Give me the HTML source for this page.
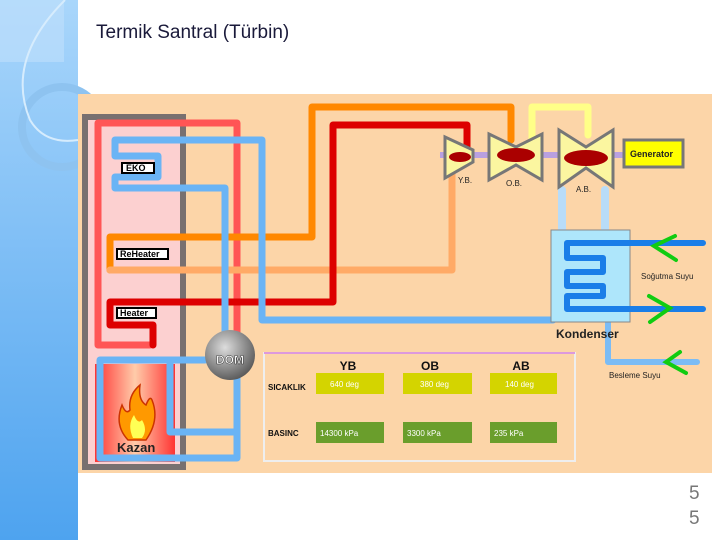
<!DOCTYPE html>
<html><head><meta charset="utf-8"><style>
body{margin:0;width:720px;height:540px;overflow:hidden;background:#fff;font-family:"Liberation Sans",sans-serif}
</style></head><body>
<svg width="720" height="540" viewBox="0 0 720 540" xmlns="http://www.w3.org/2000/svg" font-family="Liberation Sans, sans-serif">
<defs>
<linearGradient id="lb" x1="0" y1="0" x2="0" y2="1"><stop offset="0" stop-color="#a9d6fb"/><stop offset="1" stop-color="#4ea3ef"/></linearGradient>
<radialGradient id="dom" cx="0.4" cy="0.35" r="0.7"><stop offset="0" stop-color="#ddd"/><stop offset="1" stop-color="#555"/></radialGradient>
<linearGradient id="kz" x1="0" y1="0" x2="1" y2="0"><stop offset="0" stop-color="#f33"/><stop offset="0.5" stop-color="#fca"/><stop offset="1" stop-color="#f33"/></linearGradient>
</defs>
<rect x="0" y="0" width="78" height="540" fill="url(#lb)"/>
<rect x="0" y="0" width="64" height="62" fill="#bfe0fc" opacity="0.6"/>
<circle cx="62" cy="127" r="40" fill="none" stroke="#8ec3f0" stroke-width="8"/>
<path d="M65 0 Q5 60 30 120 Q45 145 78 140" fill="none" stroke="#d6ecfd" stroke-width="2"/>
<text x="96" y="38" font-size="19" fill="#1a1a3a">Termik Santral (Türbin)</text>
<text x="689" y="499" font-size="19" fill="#777">5</text>
<text x="689" y="524" font-size="19" fill="#777">5</text>

<rect x="78" y="94" width="634" height="379" fill="#fcd5a8"/>
<rect x="88" y="118" width="94" height="347" fill="#fcd0d0"/>
<rect x="85" y="117" width="98" height="350" fill="none" stroke="#787070" stroke-width="6"/>
<rect x="95" y="364" width="80" height="98" fill="url(#kz)"/>
<g fill="none" stroke-linejoin="round" stroke-linecap="round">
<path d="M150 345 H98 V123 H237 V345" stroke="#f55" stroke-width="7"/>
<path d="M110 270 V237 H312 V107 H511 V140" stroke="#f80" stroke-width="7"/>
<path d="M110 270 H452 V170" stroke="#fa6" stroke-width="7"/>
<path d="M153 345 V325 H110 V302 H333 V125 H467 V148" stroke="#d00" stroke-width="7"/>
<path d="M532 140 V107 H588 V135" stroke="#ff8" stroke-width="7"/>
<path d="M225 335 V188 H115 V177 H158 V156 H115 V140 H262 V320 H553" stroke="#6ab4f5" stroke-width="7"/>
<path d="M562 190 V232 M605 190 V232" stroke="#b8dcf8" stroke-width="8"/>
<path d="M608 322 V362 H697" stroke="#7bbcf5" stroke-width="6"/>
<path d="M205 360 H100 V458 H237 V375 M170 360 V432 H237" stroke="#6ab4f5" stroke-width="7"/>
</g>
<path d="M128 440 Q114 425 122 405 Q126 415 130 410 Q128 395 140 385 Q138 400 146 405 Q150 395 152 400 Q160 420 146 440 Z" fill="#f90" stroke="#c30" stroke-width="1.5"/>
<path d="M133 438 Q127 425 134 415 Q138 425 142 420 Q148 430 142 438Z" fill="#ff5"/>
<text x="117" y="452" font-size="13" font-weight="bold" fill="#222">Kazan</text>
<circle cx="230" cy="355" r="25" fill="url(#dom)"/>
<text x="230" y="364" font-size="12" font-weight="bold" fill="#fff" text-anchor="middle" stroke="#333" stroke-width="0.5">DOM</text>
<g font-size="9" font-weight="bold">
<rect x="122" y="163" width="32" height="10" fill="#fff" stroke="#000" stroke-width="2"/><text x="126" y="171">EKO</text>
<rect x="117" y="249" width="51" height="10" fill="#fff" stroke="#000" stroke-width="2"/><text x="120" y="257">ReHeater</text>
<rect x="117" y="308" width="39" height="10" fill="#fff" stroke="#000" stroke-width="2"/><text x="120" y="316">Heater</text>
</g>
<rect x="264" y="353" width="311" height="108" fill="#fcd5a8" stroke="#eee" stroke-width="2"/>
<line x1="264" y1="353" x2="575" y2="353" stroke="#c4c" stroke-width="1"/>
<g font-size="12" font-weight="bold" fill="#111" text-anchor="middle">
<text x="348" y="370">YB</text><text x="430" y="370">OB</text><text x="521" y="370">AB</text></g>
<g font-size="8" font-weight="bold" fill="#111"><text x="268" y="390">SICAKLIK</text><text x="268" y="436">BASINC</text></g>
<g fill="#d4d400"><rect x="316" y="373" width="68" height="21"/><rect x="403" y="373" width="69" height="21"/><rect x="490" y="373" width="67" height="21"/></g>
<g fill="#6a9e2c"><rect x="316" y="422" width="68" height="21"/><rect x="403" y="422" width="69" height="21"/><rect x="490" y="422" width="67" height="21"/></g>
<g font-size="8" fill="#fff"><text x="330" y="387">640 deg</text><text x="420" y="387">380 deg</text><text x="505" y="387">140 deg</text>
<text x="320" y="436">14300 kPa</text><text x="407" y="436">3300 kPa</text><text x="494" y="436">235 kPa</text></g>
<line x1="440" y1="155" x2="630" y2="155" stroke="#b9a0e0" stroke-width="6"/>
<g fill="#fbf6a0" stroke="#777" stroke-width="3">
<path d="M445 137 L473 150 V162 L445 178 Z"/>
<path d="M489 134 L516 147 L542 134 V180 L516 165 L489 180 Z"/>
<path d="M559 130 L586 147 L613 130 V187 L586 168 L559 187 Z"/>
<rect x="624" y="140" width="59" height="27" fill="#ff0"/>
</g>
<g fill="#a00"><ellipse cx="460" cy="157" rx="11" ry="5"/><ellipse cx="516" cy="155" rx="19" ry="7"/><ellipse cx="586" cy="158" rx="22" ry="8"/></g>
<text x="630" y="157" font-size="9" font-weight="bold" fill="#222">Generator</text>
<g font-size="8" fill="#222"><text x="458" y="183">Y.B.</text><text x="506" y="186">O.B.</text><text x="576" y="192">A.B.</text></g>
<rect x="551" y="230" width="79" height="92" fill="#aee6fb" stroke="#888" stroke-width="1"/>
<path d="M703 243 H567 V258 H603 V272 H567 V286 H603 V296 H567 V309 H703" fill="none" stroke="#1a7ee8" stroke-width="6" stroke-linejoin="round" stroke-linecap="round"/>
<g fill="none" stroke="#1c1" stroke-width="4" stroke-linecap="round">
<path d="M675 236 L654 246 L676 260"/><path d="M649 296 L670 308 L650 322"/><path d="M680 352 L666 362 L686 373"/></g>
<text x="556" y="338" font-size="12" font-weight="bold" fill="#222">Kondenser</text>
<g font-size="8" fill="#222"><text x="641" y="279">Soğutma Suyu</text><text x="609" y="378">Besleme Suyu</text></g>
</svg>
</body></html>
